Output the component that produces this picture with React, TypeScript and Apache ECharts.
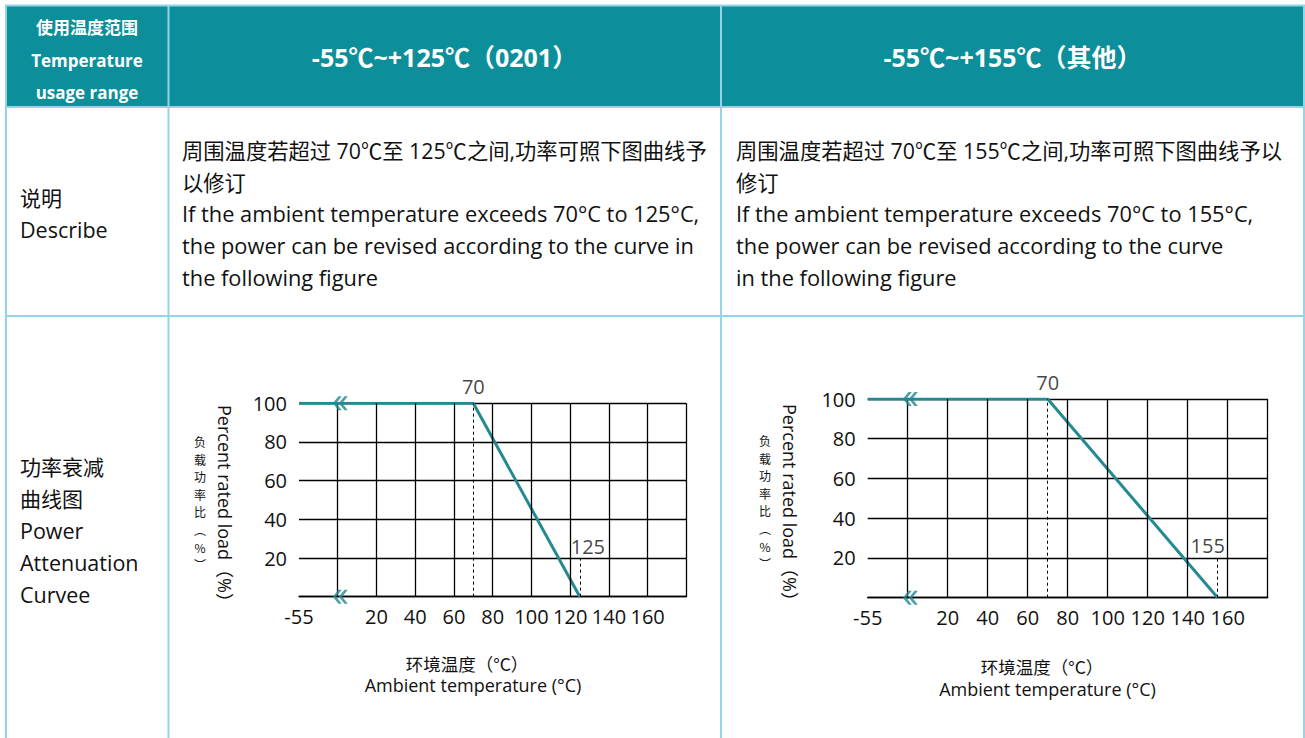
import React, { useEffect, useRef } from 'react';
import * as echarts from 'echarts';

// ---------- data ----------
const headerCol1 = ['使用温度范围', 'Temperature', 'usage range'];
const headerRanges = ['-55℃~+125℃（0201）', '-55℃~+155℃（其他）'];
const rowDescribeLabel = ['说明', 'Describe'];
const rowCurveLabel = ['功率衰减', '曲线图', 'Power', 'Attenuation', 'Curvee'];
const describe0201 = [
  '周围温度若超过 70℃至 125℃之间,功率可照下图曲线予',
  '以修订',
  'If the ambient temperature exceeds 70°C to 125°C,',
  'the power can be revised according to the curve in',
  'the following figure',
];
const describeOther = [
  '周围温度若超过 70℃至 155℃之间,功率可照下图曲线予以',
  '修订',
  'If the ambient temperature exceeds 70°C to 155°C,',
  'the power can be revised according to the curve',
  'in the following figure',
];
const yAxisNameEn = 'Percent rated load（%）';
const yAxisNameCn = ['负', '载', '功', '率', '比', '︵', '%', '︶'];
const xAxisNameCn = '环境温度（°C）';
const xAxisNameEn = 'Ambient temperature (°C)';

const xTickValues = [-55, 20, 40, 60, 80, 100, 120, 140, 160];
const yTickValues = [20, 40, 60, 80, 100];
const gridTemps = [20, 40, 60, 80, 100, 120, 140, 160, 180];

const temps0201 = [-55, 70, 125];
const loads0201 = [100, 100, 0];
const tempsOther = [-55, 70, 155];
const loadsOther = [100, 100, 0];
const kneeTemp = 70;
const breakMarkTemp = -15;

// ---------- helpers ----------
// broken axis: -55..20 is drawn in the width of two 20° steps
const toAxis = (t: number) => (t < 20 ? -20 + ((t + 55) * 40) / 75 : t);

const TEAL = '#0c8f9a';
const LINE = '#238a8f';
const BORDER = '#93d5e6';
const FONT = "'Open Sans','Noto Sans CJK SC',sans-serif";
const CJK = "'Noto Sans CJK SC','Open Sans',sans-serif";

const chevronPath =
  'path://M5.2,0 L8.4,0 L3.2,6.5 L8.4,13 L5.2,13 L0,6.5 Z M10.8,0 L14,0 L8.8,6.5 L14,13 L10.8,13 L5.6,6.5 Z';

export default function App() {
  const ref = useRef<HTMLDivElement>(null);

  useEffect(() => {
    if (!ref.current) return;
    const chart = echarts.init(ref.current, null, { renderer: 'svg' });

    const grids = [
      { left: 299, top: 403.3, width: 387.4, height: 193.4 },
      { left: 867.7, top: 399, width: 400, height: 198.7 },
    ];

    const xAxes = grids.map((_, i) => ({
      type: 'value',
      gridIndex: i,
      min: -20,
      max: 180,
      interval: 20,
      axisLine: { show: true, lineStyle: { color: '#000', width: 1.3 } },
      axisTick: { show: false },
      splitLine: { show: false },
      axisLabel: {
        margin: 10,
        fontSize: 20,
        fontFamily: FONT,
        color: '#111',
        formatter: (v: number) => {
          if (v === -20) return String(xTickValues[0]);
          if (xTickValues.indexOf(v) >= 0) return String(v);
          return '';
        },
      },
    }));

    const yAxes = grids.map((_, i) => ({
      type: 'value',
      gridIndex: i,
      min: 0,
      max: 100,
      interval: 20,
      axisLine: { show: true, lineStyle: { color: '#000', width: 1.3 } },
      axisTick: { show: false },
      splitLine: { show: true, lineStyle: { color: '#000', width: 1.3 } },
      axisLabel: {
        margin: 12,
        fontSize: 20,
        fontFamily: FONT,
        color: '#111',
        formatter: (v: number) => (yTickValues.indexOf(v) >= 0 ? String(v) : ''),
      },
    }));

    const curves = [
      { temps: temps0201, loads: loads0201, endLabelOffset: [8, 0] },
      { temps: tempsOther, loads: loadsOther, endLabelOffset: [-10, 0] },
    ];

    const series: any[] = [];
    curves.forEach((c, i) => {
      const endTemp = c.temps[c.temps.length - 1];
      // grid verticals + break markers
      series.push({
        type: 'scatter',
        xAxisIndex: i,
        yAxisIndex: i,
        z: 1,
        symbol: chevronPath,
        symbolSize: [15, 14],
        itemStyle: { color: LINE },
        silent: true,
        data: [
          [toAxis(breakMarkTemp), 100],
          [toAxis(breakMarkTemp), 0],
        ],
        markLine: {
          silent: true,
          symbol: 'none',
          label: { show: false },
          lineStyle: { color: '#000', width: 1.3, type: 'solid' },
          data: gridTemps.map((t) => ({ xAxis: toAxis(t) })),
        },
      });
      // derating curve
      series.push({
        type: 'line',
        xAxisIndex: i,
        yAxisIndex: i,
        z: 3,
        symbol: 'none',
        lineStyle: { color: LINE, width: 3 },
        data: c.temps.map((t, k) => [toAxis(t), c.loads[k]]),
        markLine: {
          silent: true,
          symbol: 'none',
          label: { show: false },
          lineStyle: { color: '#000', width: 1, type: [3, 3] },
          data: [
            [{ coord: [toAxis(kneeTemp), 0] }, { coord: [toAxis(kneeTemp), 100] }],
            [{ coord: [toAxis(endTemp), 0] }, { coord: [toAxis(endTemp), 20] }],
          ],
        },
      });
      // annotations
      series.push({
        type: 'scatter',
        xAxisIndex: i,
        yAxisIndex: i,
        z: 4,
        symbolSize: 0,
        silent: true,
        data: [
          { value: [toAxis(kneeTemp), 100], label: { formatter: String(kneeTemp), distance: 7 } },
          {
            value: [toAxis(endTemp), 20],
            label: { formatter: String(endTemp), distance: 2, offset: c.endLabelOffset },
          },
        ],
        label: { show: true, position: 'top', fontSize: 20, fontFamily: FONT, color: '#111' },
      });
    });

    const txt = (text: string, x: number, y: number, opts: any = {}) => ({
      type: 'text',
      x,
      y,
      silent: true,
      z: 10,
      rotation: opts.rotation || 0,
      style: {
        text,
        fill: opts.fill || '#111',
        fontSize: opts.fontSize || 21.5,
        fontWeight: opts.fontWeight || 'normal',
        fontFamily: opts.fontFamily || FONT,
        lineHeight: opts.lineHeight,
        align: opts.align || 'left',
        verticalAlign: 'middle',
        textAlign: opts.align || 'left',
        textVerticalAlign: 'middle',
      },
    });

    const graphic: any[] = [];
    // header background
    graphic.push({
      type: 'rect',
      silent: true,
      z: 0,
      shape: { x: 6, y: 6, width: 1298, height: 101 },
      style: { fill: TEAL },
    });
    // borders
    const vLines = [6, 168.5, 721, 1304];
    vLines.forEach((x) =>
      graphic.push({
        type: 'line',
        silent: true,
        z: 2,
        shape: { x1: x, y1: 5, x2: x, y2: 740 },
        style: { stroke: BORDER, lineWidth: 2 },
      })
    );
    [5.5, 107, 316].forEach((y) =>
      graphic.push({
        type: 'line',
        silent: true,
        z: 2,
        shape: { x1: 5, y1: y, x2: 1305, y2: y },
        style: { stroke: BORDER, lineWidth: 2 },
      })
    );
    // header texts
    [27, 60, 92].forEach((y, k) =>
      graphic.push(txt(headerCol1[k], 87, y, { fill: '#fff', fontSize: 17, fontWeight: 'bold', align: 'center' }))
    );
    graphic.push(txt(headerRanges[0], 444.5, 57, { fill: '#fff', fontSize: 25, fontWeight: 'bold', align: 'center' }));
    graphic.push(txt(headerRanges[1], 1012.5, 57, { fill: '#fff', fontSize: 25, fontWeight: 'bold', align: 'center' }));
    // row labels
    graphic.push(txt(rowDescribeLabel[0], 20, 198, { fontSize: 21 }));
    graphic.push(txt(rowDescribeLabel[1], 20, 229));
    [467, 499, 530, 562, 594].forEach((y, k) =>
      graphic.push(txt(rowCurveLabel[k], 20, y, { fontSize: k < 2 ? 21 : 21.5 }))
    );
    // description
    const descY = [150, 182, 213, 245, 277];
    descY.forEach((y, k) => {
      const fs = k < 2 ? 21.3 : 21.8;
      graphic.push(txt(describe0201[k], 182, y, { fontSize: fs }));
      graphic.push(txt(describeOther[k], 736, y, { fontSize: fs }));
    });
    // axis names
    const names = [
      { cnX: 200, cnY: 503, enX: 225, enY: 508, xCnX: 467, xCnY: 663, xEnX: 473, xEnY: 685 },
      { cnX: 765, cnY: 502, enX: 790, enY: 507, xCnX: 1042, xCnY: 666, xEnX: 1047.5, xEnY: 689 },
    ];
    names.forEach((n) => {
      graphic.push(
        txt(yAxisNameCn.join('\n'), n.cnX, n.cnY, {
          fontSize: 12,
          lineHeight: 17.6,
          align: 'center',
          fontFamily: CJK,
        })
      );
      graphic.push(
        txt(yAxisNameEn, n.enX, n.enY, { fontSize: 18, align: 'center', rotation: -Math.PI / 2 })
      );
      graphic.push(txt(xAxisNameCn, n.xCnX, n.xCnY, { fontSize: 17.5, align: 'center', fontFamily: CJK }));
      graphic.push(txt(xAxisNameEn, n.xEnX, n.xEnY, { fontSize: 18, align: 'center' }));
    });

    chart.setOption({
      animation: false,
      backgroundColor: '#fff',
      grid: grids.map((g) => ({ ...g, containLabel: false })),
      xAxis: xAxes,
      yAxis: yAxes,
      series,
      graphic,
    });

    return () => chart.dispose();
  }, []);

  return (
    <div
      ref={ref}
      style={{ position: 'fixed', left: 0, top: 0, width: 1305, height: 738, background: '#fff' }}
    />
  );
}
